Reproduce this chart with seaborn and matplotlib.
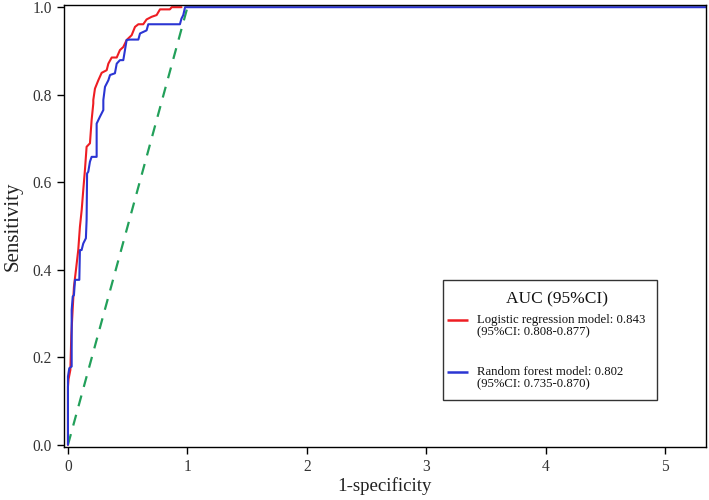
import pandas as pd
import matplotlib.pyplot as plt
import seaborn as sns
from matplotlib.patches import Rectangle

# ==========================================================
# Data
# ==========================================================

LR_FPR = [0.000, 0.000, 0.005, 0.020, 0.028, 0.039, 0.050, 0.067, 0.086, 0.100,
          0.115, 0.128, 0.142, 0.156, 0.184, 0.198, 0.212, 0.212, 0.226, 0.254,
          0.282, 0.324, 0.338, 0.366, 0.408, 0.435, 0.463, 0.491, 0.533, 0.561,
          0.589, 0.630, 0.658, 0.700, 0.742, 0.770, 0.853, 0.868, 0.950]
LR_TPR = [0.000, 0.133, 0.150, 0.171, 0.250, 0.308, 0.361, 0.400, 0.445, 0.498,
          0.537, 0.582, 0.628, 0.681, 0.689, 0.742, 0.780, 0.788, 0.814, 0.833,
          0.850, 0.856, 0.871, 0.885, 0.885, 0.902, 0.909, 0.925, 0.936, 0.955,
          0.961, 0.961, 0.972, 0.978, 0.982, 0.995, 0.995, 1.000, 1.000]

RF_FPR = [0.000, 0.000, 0.011, 0.031, 0.031, 0.040, 0.050, 0.059, 0.095, 0.100,
          0.114, 0.128, 0.150, 0.156, 0.160, 0.170, 0.184, 0.198, 0.240, 0.240,
          0.268, 0.296, 0.296, 0.310, 0.338, 0.352, 0.393, 0.408, 0.435, 0.463,
          0.477, 0.491, 0.519, 0.589, 0.603, 0.658, 0.672, 0.937, 0.950, 0.965,
          0.980, 5.340]
RF_TPR = [0.000, 0.156, 0.175, 0.179, 0.308, 0.339, 0.342, 0.377, 0.377, 0.445,
          0.445, 0.460, 0.472, 0.514, 0.620, 0.624, 0.647, 0.658, 0.658, 0.734,
          0.750, 0.765, 0.788, 0.818, 0.833, 0.845, 0.849, 0.871, 0.879, 0.879,
          0.902, 0.925, 0.926, 0.926, 0.940, 0.947, 0.961, 0.961, 0.974, 0.982,
          1.000, 1.000]

REF_X = [0.0, 1.0]
REF_Y = [0.0, 1.0]

LEGEND_TITLE = "AUC (95%CI)"
LR_LABEL = "Logistic regression model: 0.843\n(95%CI: 0.808-0.877)"
RF_LABEL = "Random forest model: 0.802\n(95%CI: 0.735-0.870)"

X_TICKS = [0, 1, 2, 3, 4, 5]
Y_TICKS = [0.0, 0.2, 0.4, 0.6, 0.8, 1.0]

RED = "#ee1d23"
BLUE = "#2b35d3"
GREEN = "#22a05a"


# ==========================================================
# Legend box drawn by hand so the handle sits on the first
# text line, like in the original figure
# ==========================================================

def DrawLegend(ax):

    tr = ax.transAxes

    ax.add_patch(Rectangle((0.5903, 0.1063), 0.3334, 0.2715,
                           transform=tr, facecolor="white",
                           edgecolor="#333333", linewidth=1.0, zorder=5))

    ax.text(0.768, 0.3345, LEGEND_TITLE, transform=tr, ha="center",
            va="center", fontsize=12.5, color="#111111", zorder=6)

    entries = [
        (RED, LR_LABEL, 0.2873),
        (BLUE, RF_LABEL, 0.1697),
    ]

    for color, label, y in entries:
        ax.plot([0.5966, 0.6293], [y, y], transform=tr, color=color,
                linewidth=1.8, zorder=6, solid_capstyle="butt")
        ax.text(0.6440, y - 0.0147, label, transform=tr, ha="left",
                va="center", fontsize=9.2, linespacing=1.05,
                color="#111111", zorder=6)


def main():

    sns.set_theme(style="white")
    plt.rcParams["font.family"] = ["Liberation Serif", "DejaVu Serif"]

    fig = plt.figure(figsize=(7.09, 5.0), dpi=100)
    ax = fig.add_axes([0.0903, 0.106, 0.9055, 0.884])

    lr = pd.DataFrame({"fpr": LR_FPR, "tpr": LR_TPR})
    rf = pd.DataFrame({"fpr": RF_FPR, "tpr": RF_TPR})
    ref = pd.DataFrame({"fpr": REF_X, "tpr": REF_Y})

    sns.lineplot(data=ref, x="fpr", y="tpr", ax=ax, color=GREEN,
                 linewidth=1.6, sort=False, estimator=None)
    ax.lines[-1].set_dashes([5, 4])

    sns.lineplot(data=lr, x="fpr", y="tpr", ax=ax, color=RED,
                 linewidth=1.5, sort=False, estimator=None)
    sns.lineplot(data=rf, x="fpr", y="tpr", ax=ax, color=BLUE,
                 linewidth=1.5, sort=False, estimator=None)

    ax.set_xlim(-0.033, 5.34)
    ax.set_ylim(-0.005, 1.005)
    ax.set_xticks(X_TICKS)
    ax.set_yticks(Y_TICKS)
    ax.set_yticklabels([f"{v:.1f}" for v in Y_TICKS])

    ax.set_xlabel("1-specificity", fontsize=13.6, color="#222222", labelpad=2)
    ax.set_ylabel("Sensitivity", fontsize=15, color="#222222", labelpad=7)

    ax.tick_params(axis="both", which="major", direction="out", length=5,
                   width=1, color="black", labelsize=11.2, labelcolor="#333333",
                   bottom=True, left=True)

    for side in ["left", "right", "top", "bottom"]:
        ax.spines[side].set_color("black")
        ax.spines[side].set_linewidth(1.0)

    DrawLegend(ax)

    fig.savefig("out.png", dpi=100)
    plt.close(fig)


if __name__ == "__main__":
    main()
